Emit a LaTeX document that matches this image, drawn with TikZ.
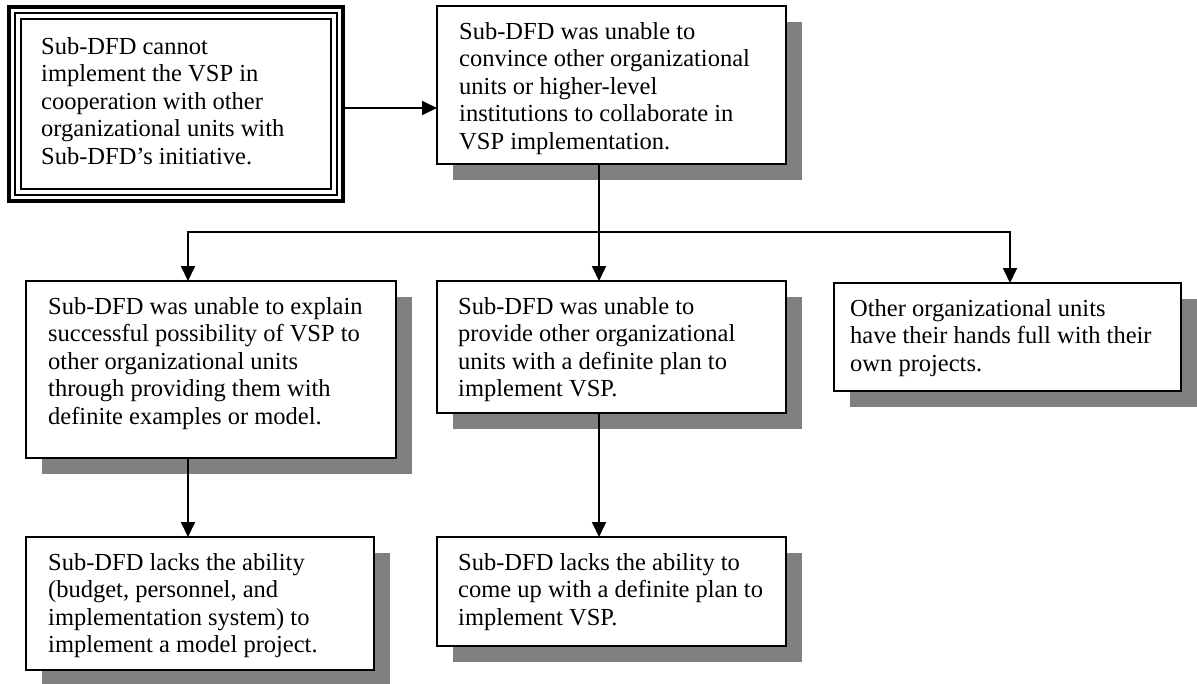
\documentclass[tikz,border=0pt]{standalone}
\usepackage{fontspec}
\setmainfont{Liberation Serif}
\usetikzlibrary{arrows.meta,shadows}
\definecolor{shadowgray}{HTML}{808080}
\begin{document}
\begin{tikzpicture}[x=1pt,y=-1pt,
 box/.style={draw, line width=2.2pt, fill=white, inner sep=0pt, outer sep=0pt, anchor=north west,
   drop shadow={shadow xshift=16pt, shadow yshift=-16pt, fill=shadowgray, opacity=1}},
 txt/.style={anchor=base west, align=left, inner sep=0pt, font=\fontsize{24.5}{27.5}\selectfont},
 conn/.style={line width=1.8pt},
 arr/.style={conn, -{Triangle[length=15pt,width=14pt]}}]
\useasboundingbox (0,0) rectangle (1197,683);
% triple-border box
\node[inner sep=0pt, outer sep=0pt, minimum width=338pt, minimum height=198pt, anchor=north west] (a) at (7,5) {};
\draw[line width=4.3pt] ([shift={(2.15,2.15)}]a.north west) rectangle ([shift={(-2.15,-2.15)}]a.south east);
\draw[line width=2.3pt] ([shift={(8.2,8.2)}]a.north west) rectangle ([shift={(-8.2,-8.2)}]a.south east);
\draw[line width=2.2pt] ([shift={(13.7,13.7)}]a.north west) rectangle ([shift={(-13.7,-13.7)}]a.south east);
% shadowed boxes
\node[box, minimum width=349pt, minimum height=158pt] (b) at (437,6) {};
\node[box, minimum width=370pt, minimum height=177pt] (c) at (26,281) {};
\node[box, minimum width=349pt, minimum height=132pt] (d) at (437,281) {};
\node[box, minimum width=347pt, minimum height=108pt] (e) at (834,283) {};
\node[box, minimum width=348pt, minimum height=133pt] (f) at (26,537) {};
\node[box, minimum width=349pt, minimum height=109pt] (g) at (437,537) {};
% texts (anchored at the baseline of their last line)
\node[txt] (at) at (41,164) {Sub-DFD cannot\\implement the VSP in\\cooperation with other\\organizational units with\\Sub-DFD’s initiative.};
\node[txt] (bt) at (459,149) {Sub-DFD was unable to\\convince other organizational\\units or higher-level\\institutions to collaborate in\\VSP implementation.};
\node[txt] (ct) at (48,424) {Sub-DFD was unable to explain\\successful possibility of VSP to\\other organizational units\\through providing them with\\definite examples or model.};
\node[txt] (dt) at (458,396.5) {Sub-DFD was unable to\\provide other organizational\\units with a definite plan to\\implement VSP.};
\node[txt] (et) at (850,371) {Other organizational units\\have their hands full with their\\own projects.};
\node[txt] (ft) at (48,652.5) {Sub-DFD lacks the ability\\(budget, personnel, and\\implementation system) to\\implement a model project.};
\node[txt] (gt) at (458,625) {Sub-DFD lacks the ability to\\come up with a definite plan to\\implement VSP.};
% connectors
\coordinate (ja) at (345,108);
\coordinate (j1) at (188,232);
\coordinate (j2) at (599,232);
\coordinate (j3) at (1010,232);
\draw[arr] (ja) -- (ja -| b.west);
\draw[arr] (b.south -| j2) -- (j2 |- d.north);
\draw[arr] (j2) -- (j1) -- (j1 |- c.north);
\draw[arr] (j2) -- (j3) -- (j3 |- e.north);
\draw[arr] (c.south -| j1) -- (f.north -| j1);
\draw[arr] (d.south -| j2) -- (g.north -| j2);
\end{tikzpicture}
\end{document}
